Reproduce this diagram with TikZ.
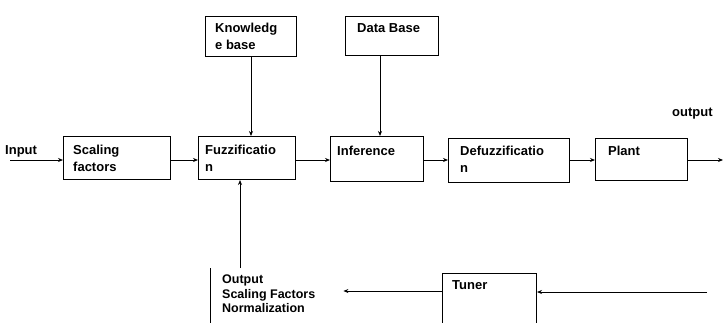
\documentclass[tikz,border=0pt]{standalone}
\usepackage{fontspec}
\setmainfont{Liberation Sans}
\usetikzlibrary{arrows.meta}
\begin{document}
\begin{tikzpicture}[x=1pt,y=-1pt,
  blk/.style={draw, line width=1pt, rectangle, anchor=north west, inner sep=0pt},
  txt/.style={anchor=north west, inner sep=0pt, align=left, font=\fontsize{13}{17}\selectfont\bfseries},
  stxt/.style={anchor=north west, inner sep=0pt, align=left, font=\fontsize{12.5}{14.5}\selectfont\bfseries},
  arr/.style={line width=0.8pt, -{Stealth[length=5pt,width=4pt]}},
  ln/.style={line width=0.8pt}]
\useasboundingbox (0,0) rectangle (723,322);
\clip (0,0) rectangle (723,322);
% boxes
\node[blk, minimum width=107pt, minimum height=43pt] (scal) at (63,136) {};
\node[blk, minimum width=97pt, minimum height=43pt] (fuzz) at (198,136) {};
\node[blk, minimum width=91pt, minimum height=40pt] (know) at (205,16) {};
\node[blk, minimum width=93pt, minimum height=39pt] (data) at (345,16) {};
\node[blk, minimum width=93pt, minimum height=45pt] (infer) at (330,136) {};
\node[blk, minimum width=121pt, minimum height=44pt] (defuz) at (448,138) {};
\node[blk, minimum width=92pt, minimum height=42pt] (plant) at (595,138) {};
\node[blk, minimum width=94pt, minimum height=60pt] (tuner) at (442,273) {};
\node[anchor=north west, inner sep=0pt, minimum width=133pt, minimum height=62pt] (outp) at (210,268) {};
\draw[line width=1pt] (outp.north west) -- (outp.south west);
% texts
\node[txt] (inT) at (5,145) {Input};
\node[txt] (scalT) at ([shift={(10,9)}]scal.north west) {Scaling\\factors};
\node[txt] (fuzzT) at ([shift={(7,9)}]fuzz.north west) {Fuzzificatio\\n};
\node[txt] (knowT) at ([shift={(10,7)}]know.north west) {Knowledg\\e base};
\node[txt] (dataT) at ([shift={(12,7)}]data.north west) {Data Base};
\node[txt] (inferT) at ([shift={(7,10)}]infer.north west) {Inference};
\node[txt] (defuzT) at ([shift={(12,8)}]defuz.north west) {Defuzzificatio\\n};
\node[txt] (plantT) at ([shift={(13,8)}]plant.north west) {Plant};
\node[txt] (outT) at (672,108) {output};
\node[txt] (tunerT) at ([shift={(10,7)}]tuner.north west) {Tuner};
\node[stxt] (outpT) at ([shift={(12,7)}]outp.north west) {Output\\Scaling Factors\\Normalization};
% connectors
\coordinate (inS) at (10,160);
\coordinate (outE) at (723,160);
\coordinate (tunS) at (707,292);
\draw[arr] (inS) -- (inS -| scal.west);
\draw[arr] (scal.east |- 0,160) -- (fuzz.west |- 0,160);
\draw[arr] (fuzz.east |- 0,160) -- (infer.west |- 0,160);
\draw[arr] (infer.east |- 0,160) -- (defuz.west |- 0,160);
\draw[arr] (defuz.east |- 0,160) -- (plant.west |- 0,160);
\draw[arr] (plant.east |- 0,160) -- (outE);
\draw[arr] (know.south) -- (know.south |- fuzz.north);
\draw[arr] ([xshift=-12pt]data.south) -- ([xshift=-12pt]data.south |- infer.north);
\draw[arr] (tunS) -- (tunS -| tuner.east);
\draw[arr] (tuner.west |- 0,291) -- (outp.east |- 0,291);
\draw[arr] ([xshift=30pt]outp.north west) -- ([xshift=30pt]outp.north west |- fuzz.south);
\end{tikzpicture}
\end{document}
